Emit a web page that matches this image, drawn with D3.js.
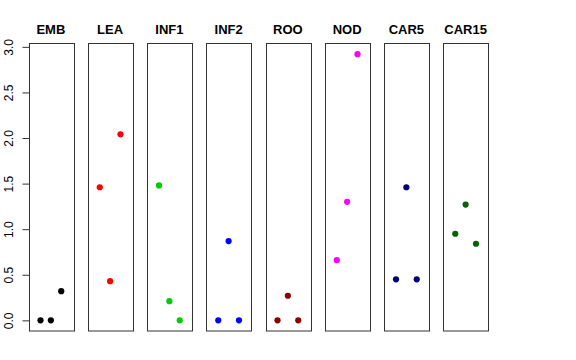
<!DOCTYPE html>
<html>
<head>
<meta charset="utf-8">
<script src="https://cdn.jsdelivr.net/npm/d3@7"></script>
<style>
  body { margin: 0; background: #fff; }
  svg { display: block; font-family: "Liberation Sans", Arial, sans-serif; }
</style>
</head>
<body>
<div id="plot"></div>
<script>
// panel names and colours
const tissues = ["EMB", "LEA", "INF1", "INF2", "ROO", "NOD", "CAR5", "CAR15"];
const colors = ["#000000", "#FF0000", "#00CD00", "#0000FF", "#8B0000", "#FF00FF", "#000080", "#006400"];

// three replicate values per panel (left, middle, right)
const rep1 = [0.00, 1.46, 1.48, 0.00, 0.00, 0.66, 0.45, 0.95];
const rep2 = [0.00, 0.43, 0.21, 0.87, 0.27, 1.30, 1.46, 1.27];
const rep3 = [0.32, 2.04, 0.00, 0.00, 0.00, 2.92, 0.45, 0.84];

const yTicks = [0, 0.5, 1, 1.5, 2, 2.5, 3];

const width = 576, height = 360;
const plotTop = 43.5, plotBottom = 331;

const svg = d3.select("#plot")
    .append("svg")
    .attr("width", width)
    .attr("height", height);

// panels placed side by side
const band = d3.scaleBand()
    .domain(tissues)
    .range([28.5, 488])
    .paddingInner(0.245)
    .paddingOuter(0);

// R style extended y range
const yMax = d3.max([...rep1, ...rep2, ...rep3]);
const ext = yMax * 0.04;
const y = d3.scaleLinear()
    .domain([-ext, yMax + ext])
    .range([plotBottom, plotTop]);

// x within a panel: positions 1,2,3 on 0..4 with 4% padding
tissues.forEach((t, i) => {
    const x0 = band(t);
    const x = d3.scaleLinear()
        .domain([-0.16, 4.16])
        .range([x0, x0 + band.bandwidth()]);

    const g = svg.append("g");

    const pts = [rep1[i], rep2[i], rep3[i]].map((v, j) => ({pos: j + 1, value: v}));
    g.selectAll("circle")
        .data(pts)
        .enter()
        .append("circle")
        .attr("cx", d => x(d.pos))
        .attr("cy", d => y(d.value))
        .attr("r", 3.1)
        .attr("fill", colors[i]);

    g.append("rect")
        .attr("x", Math.round(x0) + 0.5)
        .attr("y", plotTop)
        .attr("width", Math.round(band.bandwidth()))
        .attr("height", plotBottom - plotTop)
        .attr("fill", "none")
        .attr("stroke", "#333")
        .attr("stroke-width", 1);

    g.append("text")
        .attr("x", x0 + band.bandwidth() / 2)
        .attr("y", 34)
        .attr("text-anchor", "middle")
        .attr("font-weight", "bold")
        .attr("font-size", "13px")
        .text(t);
});

// left axis on first panel
const axisX = Math.round(band(tissues[0])) + 0.5;
const yAxis = svg.append("g")
    .attr("transform", `translate(${axisX},0)`)
    .call(d3.axisLeft(y).tickValues(yTicks).tickFormat(d3.format(".1f")).tickSize(7));

yAxis.select(".domain").remove();
yAxis.append("line")
    .attr("x1", 0).attr("x2", 0)
    .attr("y1", y(0)).attr("y2", y(3))
    .attr("stroke", "#333");
yAxis.selectAll(".tick line").attr("stroke", "#333");
yAxis.selectAll(".tick text")
    .attr("x", 0)
    .attr("dy", 0)
    .attr("transform", `translate(${-axisX + 13},0) rotate(-90)`)
    .attr("text-anchor", "middle")
    .attr("font-size", "12px")
    .attr("font-family", "Liberation Sans, Arial, sans-serif")
    .attr("fill", "#000");
</script>
</body>
</html>
